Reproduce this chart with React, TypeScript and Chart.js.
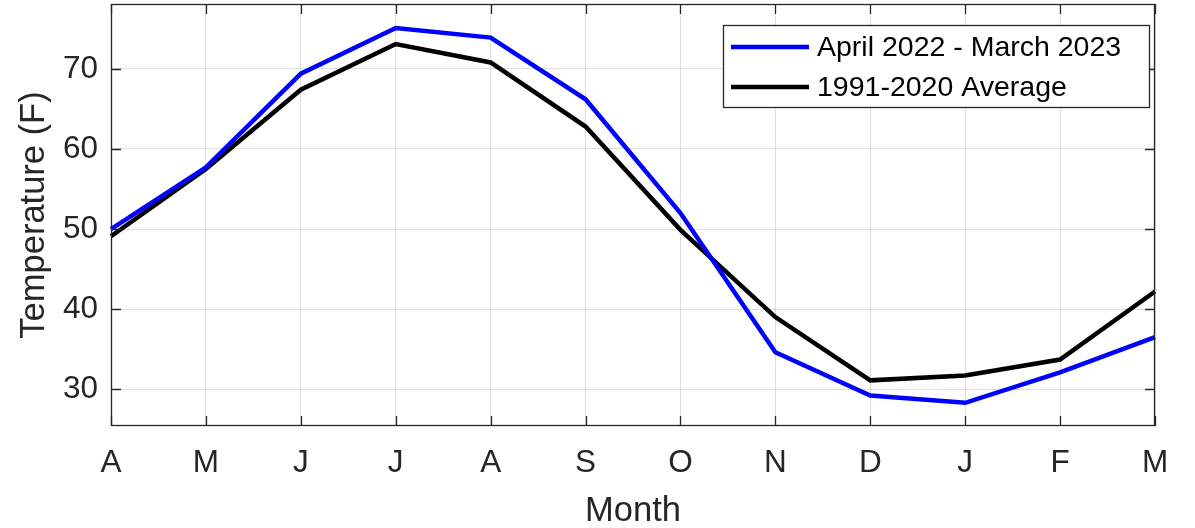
import React, { useEffect, useRef } from "react";
import { Chart, registerables } from "chart.js";

Chart.register(...registerables);

const months = ["A", "M", "J", "J", "A", "S", "O", "N", "D", "J", "F", "M"];
const recentTemps = [50.0, 57.7, 69.4, 75.1, 73.9, 66.2, 52.0, 34.6, 29.2, 28.3, 32.1, 36.5];
const normalTemps = [49.1, 57.5, 67.4, 73.1, 70.8, 62.8, 49.9, 39.0, 31.1, 31.7, 33.7, 42.2];
const seriesLabels = ["April 2022 - March 2023", "1991-2020 Average"];
const seriesColors = ["#0000ff", "#000000"];
const yMin = 25.4;
const yMax = 78.1;
const yStep = 10;

const FONT = "'Liberation Sans', Arial, Helvetica, sans-serif";
const AXIS_COLOR = "#262626";

const boxPlugin = {
  id: "matlabBox",
  afterDatasetsDraw(chart: any) {
    const { ctx, chartArea } = chart;
    const { left, right, top, bottom } = chartArea;
    const xs = chart.scales.x;
    const ys = chart.scales.y;
    const tl = 10;
    ctx.save();
    ctx.strokeStyle = AXIS_COLOR;
    ctx.lineWidth = 1.3;
    ctx.beginPath();
    ys.ticks.forEach((t: any) => {
      const py = Math.round(ys.getPixelForValue(t.value)) + 0.5;
      ctx.moveTo(left, py);
      ctx.lineTo(left + tl, py);
      ctx.moveTo(right, py);
      ctx.lineTo(right - tl, py);
    });
    xs.ticks.forEach((_t: any, i: number) => {
      const px = Math.round(xs.getPixelForTick(i)) + 0.5;
      ctx.moveTo(px, bottom);
      ctx.lineTo(px, bottom - tl);
      ctx.moveTo(px, top);
      ctx.lineTo(px, top + tl);
    });
    ctx.stroke();
    ctx.strokeRect(left + 0.5, top + 0.5, right - left - 1, bottom - top - 1);
    ctx.restore();
  },
};

const legendPlugin = {
  id: "insideLegend",
  afterDraw(chart: any) {
    const { ctx, chartArea } = chart;
    const w = 427;
    const h = 83;
    const x0 = chartArea.right - 5 - w;
    const y0 = chartArea.top + 21;
    ctx.save();
    ctx.fillStyle = "#ffffff";
    ctx.fillRect(x0, y0, w, h);
    ctx.strokeStyle = AXIS_COLOR;
    ctx.lineWidth = 1.3;
    ctx.strokeRect(x0 + 0.5, y0 + 0.5, w - 1, h - 1);
    ctx.font = `28.5px ${FONT}`;
    ctx.textBaseline = "middle";
    ctx.textAlign = "left";
    chart.data.datasets.forEach((ds: any, i: number) => {
      const cy = y0 + 22 + i * 40;
      ctx.strokeStyle = ds.borderColor;
      ctx.lineWidth = 4.5;
      ctx.beginPath();
      ctx.moveTo(x0 + 8, cy);
      ctx.lineTo(x0 + 86, cy);
      ctx.stroke();
      ctx.fillStyle = "#000000";
      ctx.fillText(ds.label, x0 + 94, cy + 1);
    });
    ctx.restore();
  },
};

export default function App() {
  const ref = useRef<HTMLCanvasElement | null>(null);
  useEffect(() => {
    if (!ref.current) return;
    const chart = new Chart(ref.current, {
      type: "line",
      data: {
        labels: months,
        datasets: [
          {
            label: seriesLabels[0],
            data: recentTemps,
            borderColor: seriesColors[0],
            backgroundColor: seriesColors[0],
            borderWidth: 4.5,
            pointRadius: 0,
            tension: 0,
          },
          {
            label: seriesLabels[1],
            data: normalTemps,
            borderColor: seriesColors[1],
            backgroundColor: seriesColors[1],
            borderWidth: 4.5,
            pointRadius: 0,
            tension: 0,
          },
        ],
      },
      options: {
        animation: false,
        responsive: true,
        maintainAspectRatio: false,
        layout: { padding: { left: 0, top: 4, right: 40, bottom: 0 } },
        plugins: {
          legend: { display: false },
          tooltip: { enabled: false },
        },
        scales: {
          x: {
            type: "category",
            offset: false,
            grid: { color: "rgba(38,38,38,0.15)", lineWidth: 1, drawTicks: false },
            border: { display: false },
            ticks: {
              color: AXIS_COLOR,
              font: { family: FONT, size: 31.5 },
              padding: 18,
              maxRotation: 0,
              autoSkip: false,
            },
            title: {
              display: true,
              text: "Month",
              color: AXIS_COLOR,
              font: { family: FONT, size: 34.5, lineHeight: 1 },
              padding: { top: 0, bottom: -1 },
            },
            afterFit(scale: any) {
              scale.height = 102;
              scale.paddingLeft = 0;
              scale.paddingRight = 0;
            },
          },
          y: {
            type: "linear",
            min: yMin,
            max: yMax,
            grid: { color: "rgba(38,38,38,0.15)", lineWidth: 1, drawTicks: false },
            border: { display: false },
            ticks: {
              stepSize: yStep,
              includeBounds: false,
              color: AXIS_COLOR,
              font: { family: FONT, size: 31.5 },
              padding: 13,
            },
            title: {
              display: true,
              text: "Temperature (F)",
              color: AXIS_COLOR,
              font: { family: FONT, size: 34.5, lineHeight: 1 },
              padding: { top: 17, bottom: 0 },
            },
            afterFit(scale: any) {
              scale.width = 111;
              scale.paddingTop = 0;
              scale.paddingBottom = 0;
            },
          },
        },
      },
      plugins: [boxPlugin, legendPlugin],
    } as any);
    return () => chart.destroy();
  }, []);

  return (
    <div style={{ position: "fixed", left: 0, top: 0, width: 1195, height: 528, background: "#ffffff" }}>
      <canvas ref={ref} />
    </div>
  );
}
